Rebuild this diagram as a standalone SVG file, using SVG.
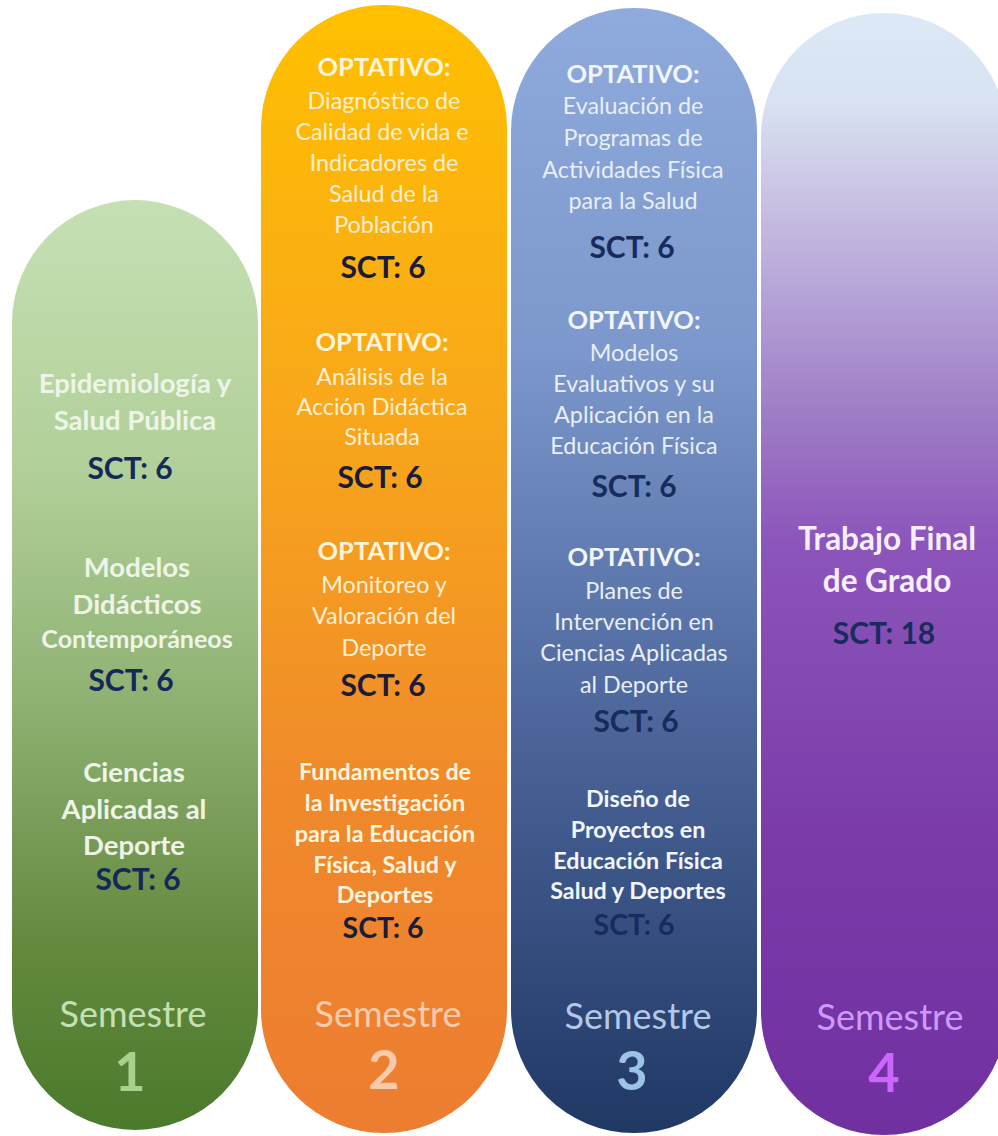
<svg xmlns="http://www.w3.org/2000/svg" width="998" height="1136" viewBox="0 0 998 1136">
<style>
text{font-family:Lato,"Open Sans","Liberation Sans",sans-serif;text-anchor:middle}
.t1{fill:#eef5e8;font-size:27.5px;font-weight:bold}
.t1s{fill:#eef5e8;font-size:25px;font-weight:bold}
.t2h{fill:#fff4dc;font-size:25.5px;font-weight:bold}
.t2{fill:#fdeed2;font-size:23.3px}
.t2b{fill:#fff4dc;font-size:23.3px;font-weight:bold}
.t3h{fill:#f2f5fb;font-size:25.5px;font-weight:bold}
.t3{fill:#e9eef8;font-size:23.3px}
.t3b{fill:#f2f5fb;font-size:23.3px;font-weight:bold}
.t4{fill:#f6eefc;font-size:31.5px;font-weight:bold}
.sct{fill:#14285a;font-size:30px;font-weight:bold}
.sct2{fill:#1a1d3a;font-size:30px;font-weight:bold}
.sct3{fill:#172c5c;font-size:30px;font-weight:bold}
.sem{font-size:36px}
.num{font-size:54px;font-weight:bold}
</style>
<defs>
<linearGradient id="g1" x1="0" y1="0" x2="0" y2="1">
<stop offset="0" stop-color="#c6e0b4"/>
<stop offset="0.3" stop-color="#b0cf98"/>
<stop offset="0.55" stop-color="#8db070"/>
<stop offset="0.8" stop-color="#64893f"/>
<stop offset="1" stop-color="#4a7a2b"/>
</linearGradient>
<linearGradient id="g2" x1="0" y1="0" x2="0" y2="1">
<stop offset="0" stop-color="#ffc000"/>
<stop offset="0.35" stop-color="#f8a81a"/>
<stop offset="0.7" stop-color="#f0892b"/>
<stop offset="1" stop-color="#ed7d31"/>
</linearGradient>
<linearGradient id="g3" x1="0" y1="0" x2="0" y2="1">
<stop offset="0" stop-color="#8faadc"/>
<stop offset="0.3" stop-color="#7c98cc"/>
<stop offset="0.65" stop-color="#4a6499"/>
<stop offset="1" stop-color="#1f3864"/>
</linearGradient>
<linearGradient id="g4" x1="0" y1="0" x2="0" y2="1">
<stop offset="0" stop-color="#dde9f6"/>
<stop offset="0.08" stop-color="#d8e2f2"/>
<stop offset="0.17" stop-color="#c8c0e2"/>
<stop offset="0.26" stop-color="#b3a0d6"/>
<stop offset="0.34" stop-color="#a283c8"/>
<stop offset="0.47" stop-color="#8c55bb"/>
<stop offset="0.75" stop-color="#7a3aa8"/>
<stop offset="1" stop-color="#7030a0"/>
</linearGradient>
</defs>
<rect width="998" height="1136" fill="#ffffff"/>

<g id="semestre1">
<path d="M12,323 A123,123 0 0 1 258,323 L258,1007 A123,123 0 0 1 12,1007 Z" fill="url(#g1)"/>
<text class="t1" x="135" y="393">Epidemiología y</text>
<text class="t1" x="135" y="430">Salud Pública</text>
<text class="sct" x="130" y="479">SCT: 6</text>
<text class="t1" x="137" y="577">Modelos</text>
<text class="t1" x="137" y="614">Didácticos</text>
<text class="t1s" x="137" y="648">Contemporáneos</text>
<text class="sct" x="131" y="691">SCT: 6</text>
<text class="t1" x="134" y="782">Ciencias</text>
<text class="t1" x="134" y="819">Aplicadas al</text>
<text class="t1" x="134" y="855">Deporte</text>
<text class="sct" x="138" y="890">SCT: 6</text>
<text class="sem" x="133" y="1027" fill="#c5e0b4">Semestre</text>
<text class="num" x="130" y="1091" fill="#a9d18e">1</text>
</g>

<g id="semestre2">
<path d="M261,128 A123,123 0 0 1 507,128 L507,1010 A123,123 0 0 1 261,1010 Z" fill="url(#g2)"/>
<text class="t2h" x="384" y="76">OPTATIVO:</text>
<text class="t2" x="384" y="109">Diagnóstico de</text>
<text class="t2" x="382" y="140">Calidad de vida e</text>
<text class="t2" x="384" y="171">Indicadores de</text>
<text class="t2" x="384" y="202">Salud de la</text>
<text class="t2" x="384" y="233">Población</text>
<text class="sct2" x="383" y="278">SCT: 6</text>
<text class="t2h" x="382" y="351">OPTATIVO:</text>
<text class="t2" x="382" y="385">Análisis de la</text>
<text class="t2" x="382" y="415">Acción Didáctica</text>
<text class="t2" x="382" y="445">Situada</text>
<text class="sct2" x="380" y="488">SCT: 6</text>
<text class="t2h" x="384" y="560">OPTATIVO:</text>
<text class="t2" x="384" y="593">Monitoreo y</text>
<text class="t2" x="384" y="624">Valoración del</text>
<text class="t2" x="384" y="656">Deporte</text>
<text class="sct2" x="383" y="696">SCT: 6</text>
<text class="t2b" x="385" y="780">Fundamentos de</text>
<text class="t2b" x="385" y="811">la Investigación</text>
<text class="t2b" x="385" y="842">para la Educación</text>
<text class="t2b" x="385" y="873">Física, Salud y</text>
<text class="t2b" x="385" y="903">Deportes</text>
<text class="sct2" x="383" y="938" style="font-size:28.5px">SCT: 6</text>
<text class="sem" x="388" y="1027" fill="#f8cbad">Semestre</text>
<text class="num" x="384" y="1089" fill="#f8cbad">2</text>
</g>

<g id="semestre3">
<path d="M511,131 A123,123 0 0 1 757,131 L757,1010 A123,123 0 0 1 511,1010 Z" fill="url(#g3)"/>
<text class="t3h" x="633" y="83">OPTATIVO:</text>
<text class="t3" x="633" y="114">Evaluación de</text>
<text class="t3" x="633" y="146">Programas de</text>
<text class="t3" x="633" y="178">Actividades Física</text>
<text class="t3" x="633" y="209">para la Salud</text>
<text class="sct3" x="632" y="258">SCT: 6</text>
<text class="t3h" x="634" y="329">OPTATIVO:</text>
<text class="t3" x="634" y="361">Modelos</text>
<text class="t3" x="634" y="392">Evaluativos y su</text>
<text class="t3" x="634" y="423">Aplicación en la</text>
<text class="t3" x="634" y="454">Educación Física</text>
<text class="sct3" x="634" y="497">SCT: 6</text>
<text class="t3h" x="634" y="566">OPTATIVO:</text>
<text class="t3" x="634" y="599">Planes de</text>
<text class="t3" x="634" y="630">Intervención en</text>
<text class="t3" x="634" y="661">Ciencias Aplicadas</text>
<text class="t3" x="634" y="693">al Deporte</text>
<text class="sct3" x="636" y="732">SCT: 6</text>
<text class="t3b" x="638" y="807">Diseño de</text>
<text class="t3b" x="638" y="838">Proyectos en</text>
<text class="t3b" x="638" y="869">Educación Física</text>
<text class="t3b" x="638" y="899">Salud y Deportes</text>
<text class="sct3" x="634" y="935" style="font-size:28.5px">SCT: 6</text>
<text class="sem" x="638" y="1029" fill="#b4c7e7">Semestre</text>
<text class="num" x="632" y="1090" fill="#9dc3e6">3</text>
</g>

<g id="semestre4">
<path d="M761,136 A123,123 0 0 1 1007,136 L1007,1012 A123,123 0 0 1 761,1012 Z" fill="url(#g4)"/>
<text class="t4" x="887" y="550">Trabajo Final</text>
<text class="t4" x="887" y="592">de Grado</text>
<text class="sct3" x="884" y="644">SCT: 18</text>
<text class="sem" x="890" y="1030" fill="#cc99ff">Semestre</text>
<text class="num" x="884" y="1092" fill="#cc66ff">4</text>
</g>

<g id="connectors"></g>
</svg>
